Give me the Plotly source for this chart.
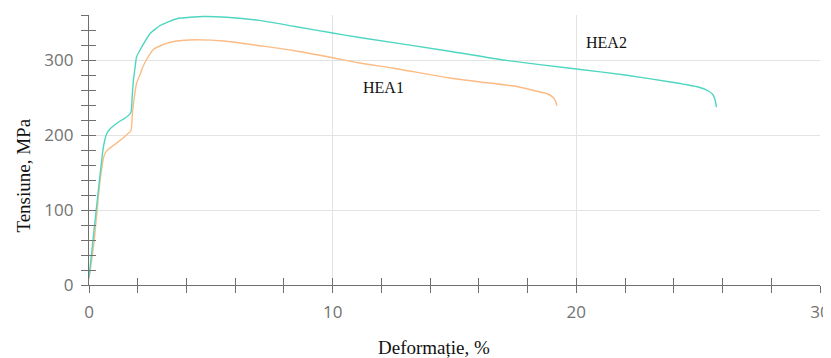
import plotly.graph_objects as go

# HEA1 (orange)
hea1_x = [0.0, 0.2, 0.45, 0.6, 0.68, 0.8, 1.0, 1.4, 1.72, 1.78, 1.88, 1.96, 2.09, 2.2, 2.37, 2.64, 3.0, 3.33, 3.8, 4.42,
          5.65, 7.0, 8.39, 10.0, 11.1, 12.5, 14.8, 16.0, 17.56, 18.3, 18.8, 19.05, 19.15, 19.2]
hea1_y = [8, 55, 138, 170, 177, 181, 186, 196, 206, 229, 255, 270, 280, 290, 301, 314, 320, 323.7, 326, 327,
          325, 319, 312.7, 303, 296, 289, 276, 271, 264.6, 259, 255, 250, 245, 239]

# HEA2 (teal)
hea2_x = [0.0, 0.56, 0.64, 0.73, 0.86, 1.2, 1.5, 1.72, 1.77, 1.82, 1.89, 1.95, 2.09, 2.5, 2.92, 3.6, 4.7,
          5.65, 7.0, 8.39, 10.0, 11.1, 14.8, 17.0, 20.0, 22.0, 24.0, 25.0, 25.4, 25.6, 25.7, 25.75]
hea2_y = [10, 177, 192, 202, 208, 217, 223, 230, 250, 272, 290, 304, 313, 335, 346, 355, 358,
          357, 352.8, 345, 336, 330, 311.7, 300, 288, 280, 270, 264, 259, 254, 246, 237]

labels = ["HEA1", "HEA2"]
label_x = [12.07, 21.23]
label_y = [262.7, 322.7]

x_ticks = [0, 10, 20, 30]
y_ticks = [0, 100, 200, 300]

teal = "#4fd6c0"
orange = "#fcbb84"
axis_col = "#6f6f6f"
grid_col = "#e3e3e3"

fig = go.Figure()
fig.add_trace(go.Scatter(x=hea1_x, y=hea1_y, mode="lines",
                         line=dict(color=orange, width=1.4, shape="spline", smoothing=0.5),
                         name="HEA1", showlegend=False))
fig.add_trace(go.Scatter(x=hea2_x, y=hea2_y, mode="lines",
                         line=dict(color=teal, width=1.4, shape="spline", smoothing=0.5),
                         name="HEA2", showlegend=False))
# dummy trace for overlay axes (inside ticks)
fig.add_trace(go.Scatter(x=[None], y=[None], xaxis="x2", yaxis="y2", showlegend=False, hoverinfo="skip"))

for t, xx, yy in zip(labels, label_x, label_y):
    fig.add_annotation(x=xx, y=yy, text=t, showarrow=False,
                       font=dict(family="Liberation Serif", size=16, color="#111111"))

fig.add_annotation(xref="paper", yref="paper", x=-0.09, y=0.406, text="Tensiune, MPa", textangle=-90,
                   showarrow=False, xanchor="center", yanchor="middle",
                   font=dict(family="Liberation Serif", size=19, color="#111111"))
fig.add_annotation(xref="paper", yref="paper", x=0.472, y=-0.232, text="Deformație, %",
                   showarrow=False, xanchor="center", yanchor="middle",
                   font=dict(family="Liberation Serif", size=19, color="#111111"))

tickfont = dict(family="Open Sans", size=17, color="#727272")

fig.update_layout(
    width=831, height=358,
    margin=dict(l=81, r=19, t=7, b=81),
    plot_bgcolor="white", paper_bgcolor="white",
    xaxis=dict(range=[0, 30], tickvals=x_ticks, ticks="outside", ticklen=7, tickcolor=axis_col,
               showline=True, linecolor=axis_col, linewidth=1.3, showgrid=True, gridcolor=grid_col,
               zeroline=False, tickfont=tickfont, ticklabelstandoff=4,
               minor=dict(dtick=2, ticks="outside", ticklen=7, tickcolor=axis_col, showgrid=False)),
    yaxis=dict(range=[0, 360], tickvals=y_ticks, ticks="outside", ticklen=7, tickcolor=axis_col,
               showline=True, linecolor=axis_col, linewidth=1.3, showgrid=True, gridcolor=grid_col,
               zeroline=False, tickfont=tickfont, ticklabelstandoff=4,
               minor=dict(dtick=20, ticks="outside", ticklen=7, tickcolor=axis_col, showgrid=False)),
    xaxis2=dict(range=[0, 30], overlaying="x", anchor="y2", dtick=2, ticks="inside", ticklen=7,
                tickcolor=axis_col, showticklabels=False, showgrid=False, zeroline=False, showline=False),
    yaxis2=dict(range=[0, 360], overlaying="y", anchor="x2", dtick=20, ticks="inside", ticklen=7,
                tickcolor=axis_col, showticklabels=False, showgrid=False, zeroline=False, showline=False),
)

fig.write_html("out.html")
